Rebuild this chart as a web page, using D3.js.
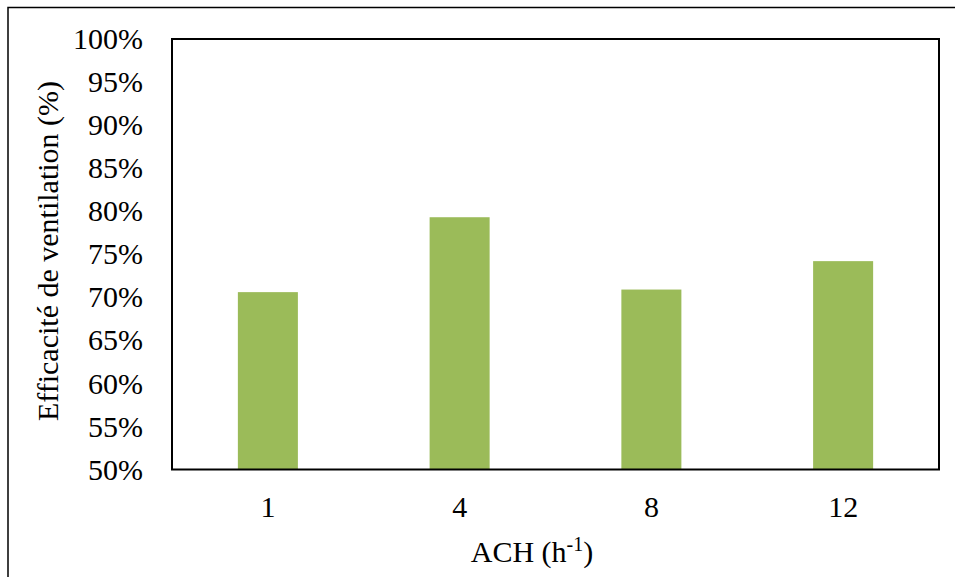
<!DOCTYPE html>
<html>
<head>
<meta charset="utf-8">
<script src="https://cdn.jsdelivr.net/npm/d3@7/dist/d3.min.js"></script>
<style>
  html, body { margin: 0; padding: 0; background: #fff; }
  svg { display: block; }
</style>
</head>
<body>
<svg id="chart" width="955" height="577"></svg>
<script>
const categories = ["1", "4", "8", "12"];
const values = [0.706, 0.793, 0.709, 0.742];
const yTicks = [0.50, 0.55, 0.60, 0.65, 0.70, 0.75, 0.80, 0.85, 0.90, 0.95, 1.00];
const xTitle = "ACH (h";
const xTitleSup = "-1";
const yTitle = "Efficacité de ventilation (%)";

const FONT = "Liberation Serif, Tinos, Times New Roman, Times, DejaVu Serif, serif";

const svg = d3.select("#chart").attr("font-family", FONT);
const L = 172, R = 939, T = 39, B = 469.5;

// outer border (left and top visible)
svg.append("path")
  .attr("d", "M8,577 L8,7.5 L955,7.5")
  .attr("fill", "none").attr("stroke", "#000").attr("stroke-width", 1.5);

const x = d3.scaleBand().domain(categories).range([L, R]).paddingInner(0.687).paddingOuter(0.3435);
const y = d3.scaleLinear().domain([0.5, 1.0]).range([B, T]);

// bars
svg.append("g").selectAll("rect")
  .data(categories.map((c, i) => ({ c, v: values[i] })))
  .join("rect")
  .attr("x", d => x(d.c))
  .attr("width", x.bandwidth())
  .attr("y", d => y(d.v))
  .attr("height", d => y(0.5) - y(d.v))
  .attr("fill", "#9BBB59");

// plot frame
svg.append("rect")
  .attr("x", L).attr("y", T).attr("width", R - L).attr("height", B - T)
  .attr("fill", "none").attr("stroke", "#000").attr("stroke-width", 2);

// y axis
const yAxis = svg.append("g")
  .attr("transform", `translate(${L},0)`)
  .call(d3.axisLeft(y).tickValues(yTicks).tickFormat(d3.format(".0%")).tickSize(0).tickPadding(29))
  .attr("font-family", FONT).attr("font-size", 30);
yAxis.select(".domain").remove();
yAxis.selectAll("text").attr("fill", "#000");

// x axis
const xAxis = svg.append("g")
  .attr("transform", `translate(0,${B})`)
  .call(d3.axisBottom(x).tickSize(0).tickPadding(26))
  .attr("font-family", FONT).attr("font-size", 30);
xAxis.select(".domain").remove();
xAxis.selectAll("text").attr("fill", "#000");

// x title
const xt = svg.append("text")
  .attr("x", 532).attr("y", 562)
  .attr("text-anchor", "middle")
  .attr("font-size", 30);
xt.append("tspan").text(xTitle);
xt.append("tspan").text(xTitleSup).attr("font-size", 20).attr("dy", -11);
xt.append("tspan").text(")").attr("dy", 11);

// y title
svg.append("text")
  .attr("transform", "translate(58,251) rotate(-90)")
  .attr("text-anchor", "middle")
  .attr("font-size", 30)
  .text(yTitle);
</script>
</body>
</html>
